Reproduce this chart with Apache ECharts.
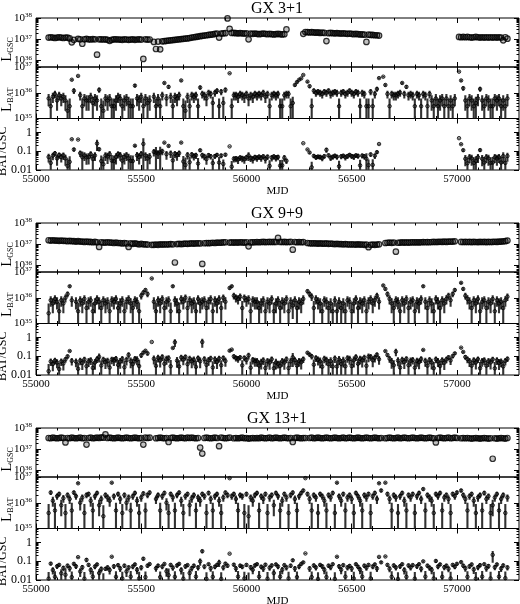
<!DOCTYPE html>
<html>

<head>
    <meta charset="utf-8" />
    <title>GX 3+1, GX 9+9, GX 13+1</title>
    <script src="https://cdn.jsdelivr.net/npm/echarts@6.0.0/dist/echarts.min.js"></script>
    <style>html, body { margin: 0; padding: 0; background: #fff; }</style>
</head>

<body>
    <div id="main" style="width: 520px;height:604px;"></div>
    <script type="text/javascript">
        // light curves read every 10 days, starting at MJD 55050
        var mjdStart = 55050;
        var mjdStep = 10;

        var titles = ['GX 3+1', 'GX 9+9', 'GX 13+1'];
        var mjdTicks = [55000, 55500, 56000, 56500, 57000];
        var gscTicks = [36, 37, 38];      // exponents
        var batTicks = [35, 36, 37];      // exponents
        var ratioTicks = [0.01, 0.1, 1];

        // GSC in 1e37, BAT in 1e35
        var gx3Gsc = [
            null, 1.2, 1.25, 1.2, 1.15, 1.2, 1.25, 1.2, 1.15, 1.2,
            1.2, 1.1, 0.72, 0.95, null, 1.05, 1.0, 0.62, 1.0, 1.05,
            1.0, 0.98, 1.02, 1.0, 0.19, 1.0, 1.0, 0.98, 1.0, 0.95,
            0.85, 0.95, 1.0, 1.0, 0.98, 0.97, 0.95, 1.0, 0.98, 0.95,
            0.97, 1.0, 0.95, 0.98, 1.0, 0.97, 0.12, 1.0, 0.97, 0.98,
            null, 0.75, 0.35, 0.78, 0.34, 0.8, 0.82, 0.85, 0.87, 0.9,
            0.92, 0.95, 0.97, 1.0, 1.02, 1.05, 1.08, 1.1, 1.15, 1.2,
            1.25, 1.3, 1.35, 1.4, 1.45, 1.5, 1.55, 1.6, 1.65, 1.7,
            1.8, 1.85, 1.2, 1.85, 1.9, 1.95, 9.5, 3.1, 2.0, 2.0,
            1.95, 1.9, 1.95, 1.9, 1.85, 1.9, 1.0, 1.85, 1.8, 1.85,
            1.8, 1.75, 1.8, 1.85, 1.8, 1.75, 1.8, 1.75, 1.7, 1.75,
            1.8, 1.75, 1.7, 1.75, 2.9, null, null, null, null, null,
            null, null, 1.8, 2.2, 2.15, 2.1, 2.15, 2.1, 2.05, 2.1,
            2.0, 2.05, 2.0, 0.83, 1.95, 2.0, 1.95, 1.9, 1.95, 1.9,
            1.85, 1.9, 1.85, 1.8, 1.85, 1.8, 1.75, 1.8, 1.75, 1.7,
            1.7, 1.65, 0.75, 1.65, 1.6, 1.6, 1.55, 1.55, 1.5, null,
            null, null, null, null, null, null, null, null, null, null,
            null, null, null, null, null, null, null, null, null, null,
            null, null, null, null, null, null, null, null, null, null,
            null, null, null, null, null, null, 1.3, 1.25, 1.3, 1.25,
            1.3, 1.25, 1.2, 1.25, 1.3, 1.25, 1.2, 1.25, 1.2, 1.25,
            1.2, 1.25, 1.2, 1.25, 1.2, 1.25, 1.2, 0.9, 1.25, 1.07
        ];
        var gx3Bat = [
            null, 6, 3, 7, 9, 5, 8, 6, 7, 5,
            2, 3, 32, 12, null, 45, 8, 3, 6, 5,
            5, 7, 4, 6, 5, 13, 3, 2, 6, 5,
            6, 3, 3, 5, 7, 6, 3, 5, 6, 4,
            3, 3, 19, 6, 5, 7, 3, 6, 4, 5,
            null, 7, 3, 6, 3, 8, 24, 6, 17, 7,
            3, 7, 6, 8, 30, 3, 2, 7, 3, 8,
            7, 8, 3, 16, 9, 8, 6, 10, 9, 4,
            10, 12, 3, 11, 4, 13, null, 57, 3, 8,
            8, 7, 9, 8, 7, 9, 6, 8, 7, 9,
            8, 9, 8, 10, 7, 9, 3, 8, 9, 8,
            9, 3, 3, 8, 9, 9, 3, 4, 20, 26,
            32, 36, 49, null, 27, 18, 3, 12, 10, 11,
            10, 9, 11, 10, 12, 9, 10, 11, 10, 3,
            10, 11, 9, 10, 12, 10, 9, 11, 10, 3,
            10, 9, 3, 3, 11, 3, 9, 14, 37, null,
            42, 20, 9, 3, 9, 8, 8, 9, 10, 24,
            9, 17, 8, 9, 8, 3, 9, 8, 3, 9,
            8, 3, 9, 5, 3, 6, 3, 5, 6, 3,
            6, 3, 5, 3, 6, null, 66, 30, 15, 5,
            3, 6, 5, 3, 4, 6, 14, 5, 3, 6,
            5, 3, 3, 6, 5, 6, 3, 5, 3, 6
        ];
        var gx3BatErr = 3;

        var gx9Gsc = [
            null, 1.55, 1.5, 1.55, 1.5, 1.5, 1.45, 1.5, 1.45, 1.45,
            1.4, 1.45, 1.4, 1.4, 1.35, 1.4, 1.35, 1.35, 1.3, 1.35,
            1.3, 1.3, 1.25, 1.3, 1.25, 0.75, 1.25, 1.2, 1.2, 1.25,
            1.2, 1.2, 1.15, 1.2, 1.15, 1.15, 1.1, 1.15, 1.1, 0.75,
            1.1, 1.05, 1.1, 1.05, 1.0, 1.05, 1.0, 1.0, 0.97, null,
            0.95, 0.95, 0.97, 0.95, 1.0, 0.97, 1.0, 0.98, 1.0, 1.02,
            1.0, 0.14, 1.02, 1.05, 1.03, 1.05, 1.07, 1.05, 1.08, 1.1,
            1.08, 1.1, 1.12, 1.1, 0.12, 1.12, 1.15, 1.13, 1.15, 1.18,
            1.15, 1.2, 1.18, 1.2, 1.22, 1.25, null, 1.2, 1.22, 1.2,
            1.22, 1.2, 1.25, 1.22, 1.2, 1.25, 0.8, 1.22, 1.25, 1.25,
            1.28, 1.25, 1.28, 1.3, 1.27, 1.28, 1.3, 1.28, 1.3, 1.28,
            2.0, 1.3, 1.28, 1.3, 1.27, 1.28, 1.3, 0.56, 1.28, 1.25,
            1.28, 1.25, 1.27, null, 1.15, 1.12, 1.1, 1.12, 1.1, 1.08,
            1.1, 1.08, 1.07, 1.1, 1.05, 1.07, 1.05, 1.03, 1.05, 1.02,
            1.03, 1.0, 1.02, 1.0, 0.98, 1.0, 0.98, 0.97, 1.0, 0.97,
            0.98, 0.95, 0.97, 0.73, 0.95, 0.97, 0.95, 0.97, 1.0, null,
            null, 1.15, 1.18, 1.2, 1.17, 1.2, 0.45, 1.18, 1.2, 1.22,
            1.2, 1.22, 1.2, 1.23, 1.25, 1.22, 1.25, 1.23, 1.25, 1.27,
            1.25, 1.27, 1.25, 1.28, 1.3, 1.28, 1.3, 1.32, 1.3, 1.33,
            1.3, 1.35, 1.33, 1.35, 1.38, null, null, 1.3, 1.28, 1.3,
            1.28, 1.3, 1.27, 1.3, 1.28, 1.27, 1.3, 1.28, 1.3, 1.27,
            1.3, 1.28, 1.3, 1.32, 1.3, 1.33, 1.35, 1.38, 1.4, 1.5
        ];
        var gx9Bat = [
            null, 2.5, 8, 6, 9, 7, 3, 8, 6, 10,
            14, 28, 8, null, 7, 3, 8, 6, 9, 4,
            7, 8, 3, 6, 9, 7, 4, 8, 6, 7,
            3, 8, 7, 9, 4, 6, 8, 3, 7, 9,
            6, 4, 8, 7, 3, 12, 16, 20, 14, null,
            56, 7, 3, 8, 6, 9, 4, 7, 8, 3,
            28, 8, 6, 3, 9, 7, 10, 4, 8, 6,
            7, 3, 9, 6, 7, 8, 4, 7, 9, 3,
            8, 6, 9, 4, 10, 7, null, 24, 28, 12,
            10, 9, 11, 4, 10, 8, 9, 3, 8, 7,
            7, 4, 6, 8, 3, 7, 6, 9, 3, 6,
            8, 4, 7, 6, 9, 3, 7, 5, 8, 4,
            7, 6, 9, null, 18, 14, 11, 4, 9, 7,
            6, 3, 8, 7, 4, 6, 3, 8, 3, 7,
            4, 6, 3, 8, 7, 3, 6, 9, 4, 7,
            6, 8, 3, 7, 9, 6, 8, 12, 7, null,
            30, 22, 14, 9, 6, 4, 8, 7, 3, 8,
            6, 9, 4, 7, 8, 3, 7, 6, 9, 28,
            7, 4, 8, 6, 3, 9, 7, 4, 8, 6,
            9, 12, 8, 14, 20, null, null, 38, 22, 12,
            9, 7, 4, 8, 6, 9, 3, 7, 8, 4,
            7, 6, 9, 3, 8, 6, 7, 4, 8, 11
        ];
        var gx9BatErr = 3.5;

        var gx13Gsc = [
            null, 3.4, 3.3, 3.5, 3.4, 3.3, 3.4, 3.5, 3.4, 2.1,
            3.4, 3.3, 3.5, 3.4, 3.3, 3.4, 3.5, 3.3, 3.4, 1.66,
            3.4, 3.5, 3.3, 3.4, 3.5, 3.4, 3.6, 3.5, 5.0, 3.4,
            3.5, 3.4, 3.3, 3.4, 3.5, 3.4, 3.3, 3.4, 3.5, 3.4,
            3.3, 3.4, 3.5, 3.4, 3.3, 3.4, 1.66, 3.5, 3.4, 3.5,
            null, null, 3.3, 3.4, 3.5, 3.4, 3.3, 3.4, 2.2, 3.4,
            3.5, 3.4, 3.3, 3.4, 3.5, 3.4, 3.3, 3.5, 3.4, 3.5,
            3.4, 3.3, 3.4, 1.2, 0.63, 3.4, 3.5, 3.4, 3.3, 3.4,
            3.5, 3.4, 1.4, 3.5, 3.4, 3.3, 3.4, 3.5, null, 3.3,
            3.4, 3.3, 3.4, 3.5, 3.3, 3.4, 3.2, 3.3, 3.4, 3.3,
            3.4, 3.3, 3.5, 3.4, 3.3, 3.4, 3.5, 3.3, 3.4, 3.5,
            3.4, 3.3, 3.4, 3.5, 3.4, 3.3, 3.4, 2.2, 3.4, 3.5,
            3.4, 3.3, 3.4, 3.4, null, 3.4, 3.5, 3.3, 3.4, 3.5,
            3.4, 3.3, 3.4, 3.5, 3.4, 3.3, 3.4, 3.5, 3.4, 3.3,
            3.4, 3.5, 3.3, 3.4, 3.5, 3.4, 3.3, 3.4, 3.5, 3.4,
            3.3, 3.4, 3.5, 3.4, 3.3, 3.4, 3.5, 3.4, 3.3, 3.4,
            null, 3.3, 3.4, 3.5, 3.4, 3.3, 3.4, 3.5, 3.3, 3.4,
            3.5, 3.4, 3.3, 3.4, 3.5, 3.4, 3.3, 3.4, 3.5, 3.4,
            3.3, 3.4, 3.5, 3.4, 3.3, 2.1, 3.4, 3.5, 3.4, 3.3,
            3.4, 3.5, 3.3, 3.4, 3.5, 3.4, null, 3.3, 3.4, 3.3,
            3.4, 3.3, 3.2, 3.3, 3.4, 3.3, 3.2, 3.3, 3.4, 3.3,
            3.2, 3.3, 0.36, 3.3, 3.2, 3.3, 3.4, 3.3, 3.2, 3.4
        ];
        var gx13Bat = [
            null, 4, 25, 12, 5, 18, 22, 8, 15, 4,
            20, 14, 5, 25, 18, 57, 10, 16, 4, 20,
            22, 12, 5, 18, 24, 8, 14, 3, 20, 16,
            12, 60, 18, 5, 22, 14, 4, 20, 10, 16,
            5, 18, 24, 12, 4, 16, 23, 5, 20, 25,
            null, null, 14, 20, 5, 18, 24, 10, 4, 22,
            16, 5, 20, 25, 12, 4, 18, 22, 8, 15,
            20, 5, 16, 12, 22, 18, 4, 24, 14, 5,
            18, 22, 12, 4, 16, 25, 20, 90, 18, 22,
            14, 5, 20, 18, 4, 22, 3, 16, 12, 20,
            24, 5, 18, 14, 22, 4, 16, 20, 8, 24,
            18, 5, 12, 22, 16, 4, 20, 25, 14, 5,
            18, 24, 30, 90, 22, 14, 5, 20, 16, 4,
            22, 18, 12, 5, 20, 16, 24, 4, 60, 18,
            12, 22, 5, 16, 20, 14, 4, 24, 18, 12,
            5, 20, 16, 22, 4, 18, 24, 14, 57, 30,
            null, 60, 22, 14, 5, 20, 16, 4, 18, 24,
            12, 5, 20, 16, 22, 4, 18, 24, 14, 34,
            5, 20, 16, 12, 4, 22, 18, 24, 5, 16,
            20, 14, 4, 22, 18, 25, null, 30, 20, 14,
            5, 18, 22, 12, 4, 16, 20, 5, 24, 14,
            18, 4, 8, 16, 22, 5, 14, 20, 4, 16
        ];
        var gx13BatErr = 5;

        var sources = [
            { gsc: gx3Gsc, bat: gx3Bat, err: gx3BatErr },
            { gsc: gx9Gsc, bat: gx9Bat, err: gx9BatErr },
            { gsc: gx13Gsc, bat: gx13Bat, err: gx13BatErr }
        ];

        var FONT = 'Liberation Serif';
        var xMin = 55000, xMax = 57295;
        var panelTops = [18, 223, 428];
        var subTops = [0, 49, 100.5];
        var subHeights = [49, 51.5, 51.5];
        // log10 ranges of the three strips
        var yRanges = [[35.7, 38], [35, 37], [-2, 0.76]];

        var mjdMinor = [];
        for (var m = 55100; m < xMax; m += 100) {
            if (m % 500 !== 0) mjdMinor.push(m);
        }
        function logMajor(r) {
            var out = [];
            for (var d = Math.ceil(r[0]); d <= r[1]; d++) out.push(d);
            return out;
        }
        function logMinor(r) {
            var out = [];
            for (var d = Math.floor(r[0]); d < r[1]; d++) {
                for (var k = 2; k < 10; k++) {
                    var v = d + Math.log10(k);
                    if (v > r[0] && v < r[1]) out.push(v);
                }
            }
            return out;
        }

        function powLabel(v) {
            return '{b|10}{s|' + Math.round(v) + '}';
        }
        function ratioLabel(v) {
            var p = Math.round(v);
            return p === 0 ? '1' : p === -1 ? '0.1' : '0.01';
        }

        var powRich = {
            b: { fontFamily: FONT, fontSize: 11, color: '#000', lineHeight: 12 },
            s: { fontFamily: FONT, fontSize: 7, color: '#000', lineHeight: 5, verticalAlign: 'top' }
        };

        var grids = [], xAxes = [], yAxes = [], series = [];

        function addAxes(g, kind, range) {
            var base = { gridIndex: g, type: 'value', min: xMin, max: xMax, splitLine: { show: false }, axisLine: { show: false, onZero: false } };
            ['bottom', 'top'].forEach(function (pos) {
                var major = Object.assign({}, base, {
                    position: pos,
                    axisTick: { inside: true, length: 5, customValues: mjdTicks, lineStyle: { color: '#000' } },
                    axisLabel: { show: false }
                });
                if (pos === 'bottom' && kind === 2) {
                    major.axisLabel = {
                        show: true, customValues: mjdTicks, margin: 4,
                        formatter: function (v) { return String(v); },
                        fontFamily: FONT, fontSize: 11, color: '#000'
                    };
                    major.name = 'MJD';
                    major.nameLocation = 'middle';
                    major.nameGap = 16;
                    major.nameMoveOverlap = false;
                    major.nameTextStyle = { fontFamily: FONT, fontSize: 11, color: '#000' };
                }
                xAxes.push(major);
                xAxes.push(Object.assign({}, base, {
                    position: pos,
                    axisTick: { inside: true, length: 2.5, customValues: mjdMinor, lineStyle: { color: '#000' } },
                    axisLabel: { show: false }
                }));
            });

            var ybase = { gridIndex: g, type: 'value', min: range[0], max: range[1], splitLine: { show: false }, axisLine: { show: false, onZero: false } };
            var names = ['{l|L}{sub|GSC}', '{l|L}{sub|BAT}', 'BAT/GSC'];
            ['left', 'right'].forEach(function (pos) {
                var major = Object.assign({}, ybase, {
                    position: pos,
                    axisTick: { inside: true, length: 5, customValues: logMajor(range), lineStyle: { color: '#000' } },
                    axisLabel: { show: false }
                });
                if (pos === 'left') {
                    var exps = kind === 0 ? gscTicks : kind === 1 ? batTicks : ratioTicks.map(function (t) { return Math.log10(t); });
                    major.axisLabel = {
                        show: true, customValues: exps, margin: 4,
                        formatter: kind === 2 ? ratioLabel : powLabel,
                        fontFamily: FONT, fontSize: 12, color: '#000', rich: powRich
                    };
                    major.name = names[kind];
                    major.nameLocation = 'middle';
                    major.nameRotate = 90;
                    major.nameGap = kind === 2 ? 27 : 21;
                    major.nameMoveOverlap = false;
                    major.nameTextStyle = {
                        fontFamily: FONT, fontSize: 12, color: '#000', padding: [0, 14, 0, 0],
                        rich: {
                            l: { fontFamily: FONT, fontSize: 15, color: '#000', lineHeight: 16 },
                            sub: { fontFamily: FONT, fontSize: 8, color: '#000', lineHeight: 8, verticalAlign: 'bottom' }
                        }
                    };
                }
                yAxes.push(major);
                yAxes.push(Object.assign({}, ybase, {
                    position: pos,
                    axisTick: { inside: true, length: 2.5, customValues: logMinor(range), lineStyle: { color: '#000' } },
                    axisLabel: { show: false }
                }));
            });
        }

        function renderBar(params, api) {
            var p1 = api.coord([api.value(0), api.value(1)]);
            var p2 = api.coord([api.value(0), api.value(2)]);
            return {
                type: 'line',
                shape: { x1: p1[0], y1: p1[1], x2: p2[0], y2: p2[1] },
                style: { stroke: '#333', lineWidth: 2.1 }
            };
        }

        function lowLog(v, floor) {
            return v > 0 ? Math.max(Math.log10(v), floor) : floor;
        }

        sources.forEach(function (src, p) {
            var gscPts = [], batPts = [], batBars = [], ratPts = [], ratBars = [];
            for (var i = 0; i < src.bat.length; i++) {
                var t = mjdStart + i * mjdStep;
                var g = src.gsc[i], b = src.bat[i], e = src.err;
                if (g != null) gscPts.push([t, 37 + Math.log10(g)]);
                if (b != null) {
                    batPts.push([t, 35 + Math.log10(b)]);
                    batBars.push([t, 35 + lowLog(b - e, 0), 35 + Math.log10(b + e)]);
                }
                if (g != null && b != null) {
                    var r = b / g * 0.01, re = e / g * 0.01;
                    ratPts.push([t, Math.log10(r)]);
                    ratBars.push([t, lowLog(r - re, -2), Math.log10(r + re)]);
                }
            }
            var pts = [gscPts, batPts, ratPts];
            var bars = [null, batBars, ratBars];

            for (var k = 0; k < 3; k++) {
                var gi = p * 3 + k;
                grids.push({
                    left: 36, width: 483, top: panelTops[p] + subTops[k], height: subHeights[k],
                    show: true, borderColor: '#000', borderWidth: 1, backgroundColor: 'transparent',
                    outerBoundsMode: 'none', containLabel: false
                });
                addAxes(gi, k, yRanges[k]);
                if (bars[k]) {
                    series.push({
                        type: 'custom', xAxisIndex: gi * 4, yAxisIndex: gi * 4,
                        renderItem: renderBar, encode: { x: 0, y: [1, 2] },
                        data: bars[k], clip: true, silent: true, z: 1
                    });
                }
                series.push({
                    type: 'scatter', xAxisIndex: gi * 4, yAxisIndex: gi * 4,
                    data: pts[k], symbol: 'circle', symbolSize: k === 0 ? 5.5 : 3.5,
                    itemStyle: {
                        color: k === 0 ? 'rgba(0,0,0,0.3)' : 'rgba(0,0,0,0.25)',
                        borderColor: '#000', borderWidth: k === 0 ? 1.2 : 1
                    },
                    clip: true, silent: true, z: 2
                });
            }
        });

        var myChart = echarts.init(document.getElementById('main'));
        var option = {
            animation: false,
            backgroundColor: '#fff',
            title: titles.map(function (t, p) {
                return {
                    text: t, left: 277, top: panelTops[p] - 17, textAlign: 'center', padding: 0,
                    textStyle: { fontFamily: FONT, fontSize: 16, fontWeight: 'normal', color: '#000' }
                };
            }),
            grid: grids,
            xAxis: xAxes,
            yAxis: yAxes,
            series: series
        };
        myChart.setOption(option);
    </script>
</body>

</html>
